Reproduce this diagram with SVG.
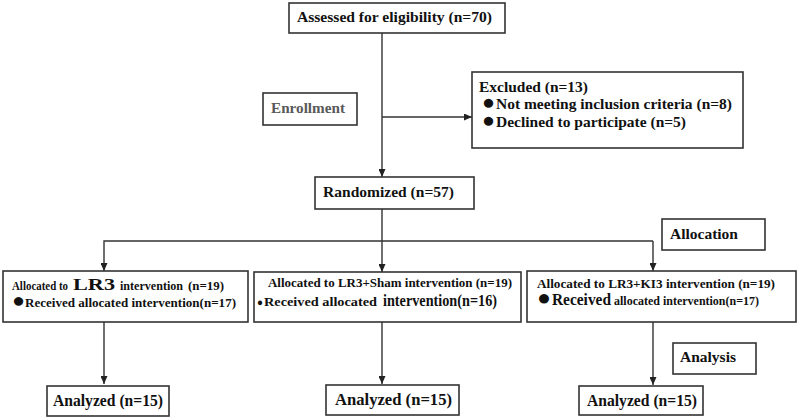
<svg xmlns="http://www.w3.org/2000/svg" width="800" height="419" viewBox="0 0 800 419">
<defs>
<marker id="arr" viewBox="0 0 8 7" refX="8" refY="3.5" markerWidth="8" markerHeight="7" markerUnits="userSpaceOnUse" orient="auto"><path d="M0,0 L8,3.5 L0,7 z" fill="#222"/></marker>
<style>
.box{fill:#fff;stroke:#333;stroke-width:1.6}
.t{font-family:'Liberation Serif','DejaVu Serif',serif;font-weight:bold;fill:#111}
.c{fill:none;stroke:#333;stroke-width:1.4;marker-end:url(#arr)}
</style>
</defs>
<rect width="800" height="419" fill="#fff"/>
<g id="connectors">
<path class="c" d="M382,33 V177"/>
<path class="c" d="M382,117 H472"/>
<path class="c" d="M382,209 V272"/>
<path class="c" d="M653,241 H104 V271"/>
<path class="c" d="M653,241 V271"/>
<path class="c" d="M104,322 V384"/>
<path class="c" d="M382,322 V384"/>
<path class="c" d="M653,322 V385"/>
</g>
<g id="assessed">
<rect class="box" x="289" y="3" width="216" height="30"/>
<text class="t" x="297" y="22" font-size="15.5" textLength="195" lengthAdjust="spacingAndGlyphs">Assessed for eligibility (n=70)</text>
</g>
<g id="enrollment">
<rect class="box" x="263" y="93" width="94" height="32"/>
<text class="t" x="271" y="113" font-size="15" textLength="74" lengthAdjust="spacingAndGlyphs" style="fill:#595959">Enrollment</text>
</g>
<g id="excluded">
<rect class="box" x="472" y="72" width="271" height="76"/>
<text class="t" x="479" y="92" font-size="15.5" textLength="109" lengthAdjust="spacingAndGlyphs">Excluded (n=13)</text>
<text class="t" y="109" font-size="15.5"><tspan x="482" font-size="21" textLength="13" lengthAdjust="spacingAndGlyphs">●</tspan><tspan x="496" textLength="236" lengthAdjust="spacingAndGlyphs">Not meeting inclusion criteria (n=8)</tspan></text>
<text class="t" y="127" font-size="15.5"><tspan x="482" font-size="21" textLength="13" lengthAdjust="spacingAndGlyphs">●</tspan><tspan x="496" textLength="190" lengthAdjust="spacingAndGlyphs">Declined to participate (n=5)</tspan></text>
</g>
<g id="randomized">
<rect class="box" x="315" y="177" width="159" height="32"/>
<text class="t" x="323" y="197" font-size="15.5" textLength="131" lengthAdjust="spacingAndGlyphs">Randomized (n=57)</text>
</g>
<g id="allocation">
<rect class="box" x="662" y="219" width="103" height="31"/>
<text class="t" x="670" y="239" font-size="15" textLength="68" lengthAdjust="spacingAndGlyphs">Allocation</text>
</g>
<g id="alloc-lr3">
<rect class="box" x="3" y="271" width="245" height="51"/>
<text class="t" y="290" font-size="13.5"><tspan x="12" textLength="56" lengthAdjust="spacingAndGlyphs">Allocated to</tspan><tspan x="73" font-size="17" textLength="42" lengthAdjust="spacingAndGlyphs">LR3</tspan><tspan x="120" textLength="63" lengthAdjust="spacingAndGlyphs">intervention</tspan><tspan x="188" textLength="36" lengthAdjust="spacingAndGlyphs">(n=19)</tspan></text>
<text class="t" y="307" font-size="13.5"><tspan x="12" font-size="20" textLength="13" lengthAdjust="spacingAndGlyphs">●</tspan><tspan x="25" textLength="211" lengthAdjust="spacingAndGlyphs">Received allocated intervention(n=17)</tspan></text>
</g>
<g id="alloc-sham">
<rect class="box" x="254" y="272" width="267" height="50"/>
<text class="t" x="268" y="287" font-size="13" textLength="244" lengthAdjust="spacingAndGlyphs">Allocated to LR3+Sham intervention (n=19)</text>
<text class="t" y="306" font-size="13"><tspan x="257" font-size="11" textLength="6" lengthAdjust="spacingAndGlyphs">●</tspan><tspan x="264" textLength="113" lengthAdjust="spacingAndGlyphs">Received allocated</tspan><tspan x="383" font-size="16" textLength="114" lengthAdjust="spacingAndGlyphs">intervention(n=16)</tspan></text>
</g>
<g id="alloc-ki3">
<rect class="box" x="527" y="271" width="269" height="51"/>
<text class="t" x="537" y="288" font-size="13" textLength="238" lengthAdjust="spacingAndGlyphs">Allocated to LR3+KI3 intervention  (n=19)</text>
<text class="t" y="305" font-size="12.5"><tspan x="537" font-size="22" textLength="14" lengthAdjust="spacingAndGlyphs">●</tspan><tspan x="552" font-size="16" textLength="59" lengthAdjust="spacingAndGlyphs">Received</tspan><tspan x="614" textLength="145" lengthAdjust="spacingAndGlyphs">allocated intervention(n=17)</tspan></text>
</g>
<g id="analysis">
<rect class="box" x="673" y="343" width="83" height="31"/>
<text class="t" x="680" y="362" font-size="15" textLength="56" lengthAdjust="spacingAndGlyphs">Analysis</text>
</g>
<g id="analyzed-lr3">
<rect class="box" x="47" y="386" width="122" height="30"/>
<text class="t" x="53" y="406" font-size="16" textLength="110" lengthAdjust="spacingAndGlyphs">Analyzed (n=15)</text>
</g>
<g id="analyzed-sham">
<rect class="box" x="326" y="385" width="133" height="30"/>
<text class="t" x="335" y="405" font-size="16" textLength="117" lengthAdjust="spacingAndGlyphs">Analyzed (n=15)</text>
</g>
<g id="analyzed-ki3">
<rect class="box" x="579" y="386" width="124" height="29"/>
<text class="t" x="587" y="406" font-size="16" textLength="110" lengthAdjust="spacingAndGlyphs">Analyzed (n=15)</text>
</g>
</svg>
